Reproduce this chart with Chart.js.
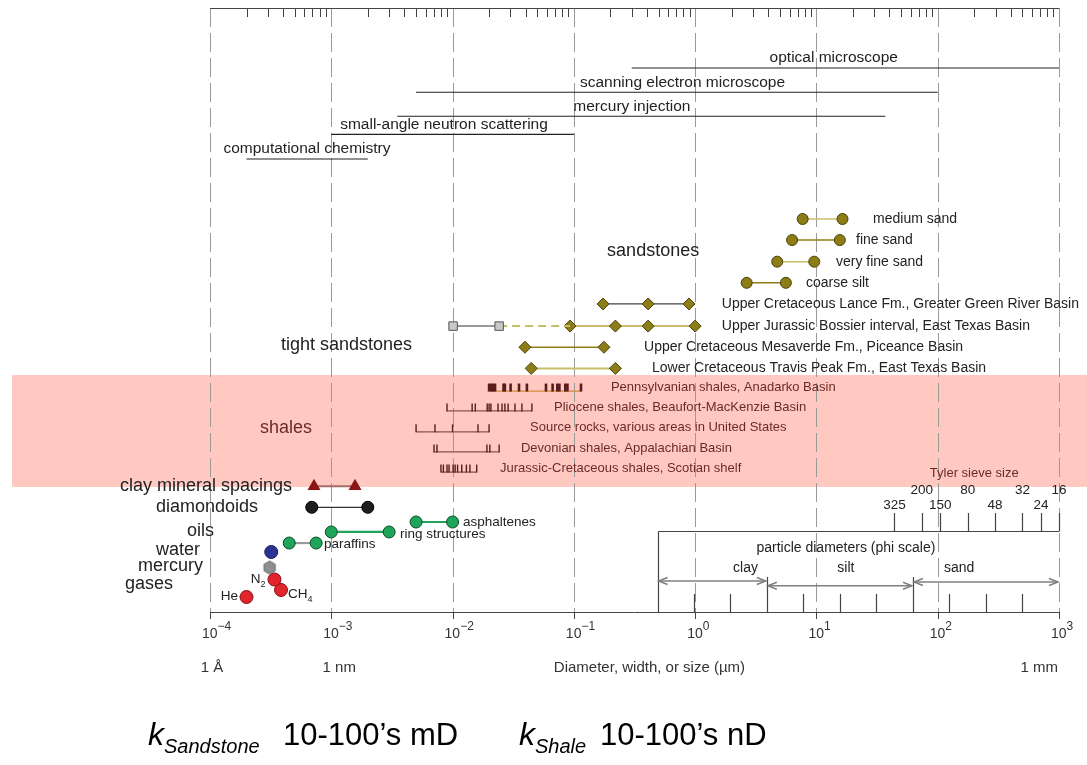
<!DOCTYPE html>
<html lang="en">
<head>
<meta charset="UTF-8">
<title>Pore and particle sizes</title>
<script src="https://cdn.jsdelivr.net/npm/chart.js@4"></script>
<style>
  body { margin: 0; background: #fff; }
  #wrap { width: 1087px; height: 765px; }
</style>
</head>
<body>
<div id="wrap"><canvas id="sizeChart" width="1087" height="765"></canvas></div>
<script>
// ---- data (sizes in micrometres) ----
const decades = [1e-4, 1e-3, 1e-2, 1e-1, 1, 10, 100, 1000];
const decadeExp = ['\u22124', '\u22123', '\u22122', '\u22121', '0', '1', '2', '3'];

const methods = ['optical microscope', 'scanning electron microscope', 'mercury injection',
                 'small-angle neutron scattering', 'computational chemistry'];
const methodFrom = [0.3, 0.005, 0.0035, 0.001, 0.0002];
const methodTo = [1000, 100, 37, 0.1, 0.002];

const sands = ['medium sand', 'fine sand', 'very fine sand', 'coarse silt'];
const sandFrom = [7.7, 6.3, 4.75, 2.66];
const sandTo = [16.4, 15.6, 9.6, 5.6];

const tightNames = ['Upper Cretaceous Lance Fm., Greater Green River Basin',
                    'Upper Jurassic Bossier interval, East Texas Basin',
                    'Upper Cretaceous Mesaverde Fm., Piceance Basin',
                    'Lower Cretaceous Travis Peak Fm., East Texas Basin'];
const lance = [0.174, 0.41, 0.89];
const bossierGrey = [0.0101, 0.0242];
const bossier = [0.093, 0.22, 0.41, 1.0];
const mesaverde = [0.0395, 0.177];
const travisPeak = [0.0445, 0.22];

const shaleNames = ['Pennsylvanian shales, Anadarko Basin',
                    'Pliocene shales, Beaufort-MacKenzie Basin',
                    'Source rocks, various areas in United States',
                    'Devonian shales, Appalachian Basin',
                    'Jurassic-Cretaceous shales, Scotian shelf'];
const pennsylvanian = [0.0200, 0.0208, 0.0216, 0.0224, 0.0263, 0.0270, 0.0301, 0.0353, 0.0410,
                       0.0589, 0.0668, 0.0730, 0.0760, 0.0850, 0.0885, 0.1145];
const pliocene = [0.0090, 0.0145, 0.0154, 0.0193, 0.0200, 0.0207, 0.0237, 0.0256, 0.0270,
                  0.0287, 0.0327, 0.0373, 0.0451];
const sourceRocks = [0.0050, 0.00716, 0.0100, 0.0162, 0.0200];
const devonian = [0.00703, 0.00744, 0.0192, 0.0203, 0.0242];
const jurassicCret = [0.00802, 0.0084, 0.0090, 0.00935, 0.0101, 0.0105, 0.0110, 0.0119,
                      0.0130, 0.0139, 0.0158];

const clayMineral = [7.2e-4, 1.57e-3];
const diamondoids = [6.9e-4, 2.0e-3];
const asphaltenes = [0.005, 0.01];
const ringStructures = [0.001, 0.003];
const paraffins = [4.5e-4, 7.5e-4];
const water = [3.2e-4];
const mercury = [3.1e-4];
const gasNames = ['He', 'N2', 'CH4'];
const gases = [2.0e-4, 3.4e-4, 3.85e-4];

const sieveMesh = ['325', '200', '150', '80', '48', '32', '24', '16'];
const sieveOpening = [44, 74, 105, 177, 297, 500, 710, 1000];
const phiTicks = [0.98, 1.95, 3.9, 7.8, 15.6, 31.2, 62.5, 125, 250, 500];
const grainClasses = ['clay', 'silt', 'sand'];
const grainFrom = [0.49, 3.9, 62.5];
const grainTo = [3.9, 62.5, 1000];

// ---- vertical layout (rows on a 0..60 scale, top down) ----
const rowY = {
  methods: [5.96, 8.37, 10.76, 12.55, 15.0],
  sands: [20.96, 23.05, 25.2, 27.3],
  tight: [29.4, 31.6, 33.7, 35.8],
  shales: [38.05, 40.03, 42.1, 44.1, 46.1],
  clay: 47.5, diamondoids: 49.6, asphaltenes: 51.06, ring: 52.05, paraffins: 53.15,
  water: 54.04, mercury: 55.58, gases: [58.51, 56.77, 57.81],
  band: [36.46, 47.58], sieveTop: 50.17, box: 51.95, sieveLo: 49.42, sieveHi: 47.95,
  tyler: 46.19, particle: 53.64, classes: 55.63, arrows: [56.92, 57.39, 57.02],
  bound: 56.52, phiTop: 58.2, base: 60
};

const FONT = '"Liberation Sans", Arial, Helvetica, sans-serif';
const TXT = '#222';
const SHALE = '#6b2a2a';
const OLIVE = '#8c7d16';
const KHAKI = '#c9bd6c';
const GREEN = '#1ea55a';

function seg(xs, y, opts) {
  return Object.assign({
    data: xs.map(v => ({ x: v, y: y })),
    showLine: true, pointRadius: 0, borderWidth: 1.3, borderColor: '#333'
  }, opts);
}

function hexagon(r, fill, stroke) {
  const c = document.createElement('canvas');
  const s = 2 * r + 3;
  c.width = c.height = s;
  const g = c.getContext('2d');
  g.beginPath();
  for (let i = 0; i < 6; i++) {
    const a = Math.PI / 3 * i + Math.PI / 6;
    g.lineTo(s / 2 + r * Math.cos(a), s / 2 + r * Math.sin(a));
  }
  g.closePath();
  g.fillStyle = fill; g.fill();
  g.strokeStyle = stroke; g.lineWidth = 1; g.stroke();
  return c;
}

const circle = (fill, border, r) => ({ pointStyle: 'circle', pointRadius: r || 5.5,
  pointBackgroundColor: fill, pointBorderColor: border, pointBorderWidth: 1 });
const diamond = { pointStyle: 'rectRot', pointRadius: 6, pointBackgroundColor: OLIVE,
  pointBorderColor: '#4a420a', pointBorderWidth: 1 };

const datasets = [];
methods.forEach((m, i) => datasets.push(seg([methodFrom[i], methodTo[i]], rowY.methods[i],
  { borderColor: '#222', borderWidth: 1.1 })));
const sandLine = [KHAKI, OLIVE, KHAKI, OLIVE];
sands.forEach((s, i) => datasets.push(seg([sandFrom[i], sandTo[i]], rowY.sands[i],
  Object.assign({ borderColor: sandLine[i], borderWidth: 1.6 }, circle(OLIVE, '#4a420a', 5.5)))));
datasets.push(seg(lance, rowY.tight[0], Object.assign({ borderColor: '#444' }, diamond)));
datasets.push(seg(bossierGrey, rowY.tight[1], { borderColor: '#999', borderWidth: 2,
  pointStyle: 'rect', pointRadius: 6, pointBackgroundColor: '#c8c8c8', pointBorderColor: '#555', pointBorderWidth: 1 }));
datasets.push(seg([bossierGrey[1], bossier[0]], rowY.tight[1], { borderColor: KHAKI, borderWidth: 2, borderDash: [8, 5] }));
datasets.push(seg(bossier, rowY.tight[1], Object.assign({ borderColor: KHAKI, borderWidth: 2 }, diamond)));
datasets.push(seg(mesaverde, rowY.tight[2], Object.assign({ borderColor: OLIVE, borderWidth: 1.6 }, diamond)));
datasets.push(seg(travisPeak, rowY.tight[3], Object.assign({ borderColor: KHAKI, borderWidth: 2 }, diamond)));

const shaleSets = [pennsylvanian, pliocene, sourceRocks, devonian, jurassicCret];
shaleSets.forEach((s, i) => datasets.push(seg([s[0], s[s.length - 1]], rowY.shales[i],
  { borderColor: i === 0 ? '#d08a3a' : '#8a5050', borderWidth: 1.2 })));

datasets.push(seg(clayMineral, rowY.clay, { borderColor: '#a86a6a', borderWidth: 2,
  pointStyle: 'triangle', pointRadius: 5.5, pointBackgroundColor: '#8b1515', pointBorderColor: '#8b1515' }));
datasets.push(seg(diamondoids, rowY.diamondoids, Object.assign({ borderColor: '#333', borderWidth: 1.3 }, circle('#1e1e1e', '#000', 6))));
datasets.push(seg(asphaltenes, rowY.asphaltenes, Object.assign({ borderColor: GREEN, borderWidth: 2.2 }, circle(GREEN, '#0c4a26', 6))));
datasets.push(seg(ringStructures, rowY.ring, Object.assign({ borderColor: GREEN, borderWidth: 2.2 }, circle(GREEN, '#0c4a26', 6))));
datasets.push(seg(paraffins, rowY.paraffins, Object.assign({ borderColor: '#9a9a9a', borderWidth: 2.2 }, circle(GREEN, '#0c4a26', 6))));
datasets.push(seg(water, rowY.water, Object.assign({ showLine: false }, circle('#2d3190', '#1a1d60', 6.5))));
datasets.push(seg(mercury, rowY.mercury, { showLine: false, pointStyle: hexagon(6.5, '#8e8e8e', '#666'), pointRadius: 6.5 }));
gases.forEach((g, i) => datasets.push(seg([g], rowY.gases[i], Object.assign({ showLine: false }, circle('#e2242c', '#8a1015', 6.5)))));

// ---- text labels: [text, x value, y row, align, size, colour, dy] ----
const methodLabelAt = [13.9, 0.787, 0.301, 0.0085, 6.3e-4];
const sandLabelAt = [29.3, 21.2, 14.5, 8.2];
const tightLabelAt = [1.66, 1.66, 0.379, 0.441];
const shaleLabelAt = [0.202, 0.0686, 0.0435, 0.0366, 0.0246];
const notes = [];
methods.forEach((m, i) => notes.push([m, methodLabelAt[i], rowY.methods[i], 'center', 15.5, TXT, -10]));
sands.forEach((s, i) => notes.push([s, sandLabelAt[i], rowY.sands[i], 'left', 14, TXT, 0]));
tightNames.forEach((s, i) => notes.push([s, tightLabelAt[i], rowY.tight[i], 'left', 14, TXT, 0]));
shaleNames.forEach((s, i) => notes.push([s, shaleLabelAt[i], rowY.shales[i], 'left', 13, SHALE, -4]));
notes.push(['sandstones', 0.188, 24.14, 'left', 18, TXT, 0]);
notes.push(['tight sandstones', 3.85e-4, 33.48, 'left', 18, TXT, 0]);
notes.push(['shales', 2.58e-4, 41.72, 'left', 18, SHALE, 0]);
notes.push(['clay mineral spacings', 4.74e-4, rowY.clay, 'right', 18, TXT, 0]);
notes.push(['diamondoids', 2.49e-4, rowY.diamondoids, 'right', 18, TXT, 0]);
notes.push(['oils', 1.08e-4, rowY.ring, 'right', 18, TXT, -1]);
notes.push(['water', 8.27e-5, rowY.water, 'right', 18, TXT, -2]);
notes.push(['mercury', 8.76e-5, rowY.mercury, 'right', 18, TXT, -1]);
notes.push(['gases', 4.95e-5, 57.2, 'right', 18, TXT, 0]);
notes.push(['asphaltenes', 0.0122, rowY.asphaltenes, 'left', 13.5, TXT, 0]);
notes.push(['ring structures', 0.00368, rowY.ring, 'left', 13.5, TXT, 2]);
notes.push(['paraffins', 8.7e-4, rowY.paraffins, 'left', 13.5, TXT, 1]);
notes.push(['He', 1.7e-4, rowY.gases[0], 'right', 13.5, TXT, -1]);
notes.push(['Tyler sieve size', 200, rowY.tyler, 'center', 13, SHALE, 0]);
notes.push(['particle diameters (phi scale)', 17.5, rowY.particle, 'center', 14, TXT, 0]);
grainClasses.forEach((g, i) => notes.push([g, [2.6, 17.5, 150][i], rowY.classes, 'center', 14, TXT, 0]));
sieveMesh.forEach((s, i) => notes.push([s, sieveOpening[i], i % 2 ? rowY.sieveHi : rowY.sieveLo, 'center', 13.5, TXT, 0]));

function drawRich(ctx, parts, px, py, align) {
  let w = 0;
  parts.forEach(p => { ctx.font = p.font; p.w = ctx.measureText(p.t).width; w += p.w; });
  let cx = align === 'center' ? px - w / 2 : align === 'right' ? px - w : px;
  ctx.textAlign = 'left';
  ctx.textBaseline = 'alphabetic';
  parts.forEach(p => { ctx.font = p.font; ctx.fillText(p.t, cx, py + (p.dy || 0)); cx += p.w; });
}

const figurePlugin = {
  id: 'figure',
  beforeDatasetsDraw(chart) {
    const { ctx, chartArea: a, scales: { x, y } } = chart;
    const X = v => x.getPixelForValue(v);
    const Y = v => y.getPixelForValue(v);
    const line = (x1, y1, x2, y2) => { ctx.beginPath(); ctx.moveTo(x1, y1); ctx.lineTo(x2, y2); ctx.stroke(); };
    ctx.save();
    // shale band
    ctx.fillStyle = '#ffc9c1';
    ctx.fillRect(12, Y(rowY.band[0]), chart.width - 12, Y(rowY.band[1]) - Y(rowY.band[0]));
    // dashed decade lines
    ctx.strokeStyle = '#9a9a9a';
    ctx.lineWidth = 1;
    ctx.setLineDash([19, 6]);
    decades.forEach(d => { const px = Math.round(X(d)) + 0.5; line(px, a.top, px, a.bottom); });
    ctx.setLineDash([]);
    // top frame with minor ticks
    ctx.strokeStyle = '#444';
    line(a.left, a.top + 0.5, a.right, a.top + 0.5);
    decades.slice(0, -1).forEach(d => {
      for (let m = 2; m <= 9; m++) { const px = Math.round(X(d * m)) + 0.5; line(px, a.top, px, a.top + 9); }
    });
    // bottom axis
    ctx.strokeStyle = '#444';
    line(a.left, a.bottom + 0.5, a.right, a.bottom + 0.5);
    decades.forEach(d => { const px = Math.round(X(d)) + 0.5; line(px, a.bottom, px, a.bottom + 7); });
    // sieve / phi box
    const x0 = Math.round(X(grainFrom[0])) + 0.5;
    const yBox = Math.round(Y(rowY.box)) + 0.5;
    ctx.strokeStyle = '#444';
    ctx.lineWidth = 1.2;
    line(x0, yBox, a.right, yBox);
    line(x0, yBox, x0, a.bottom);
    sieveOpening.forEach(v => { const px = Math.round(X(v)) + 0.5; line(px, Y(rowY.sieveTop), px, yBox); });
    phiTicks.forEach(v => {
      const px = Math.round(X(v)) + 0.5;
      const top = (v === grainTo[0] || v === grainTo[1]) ? rowY.bound : rowY.phiTop;
      line(px, Y(top), px, a.bottom);
    });
    // class arrows
    ctx.strokeStyle = '#808080';
    ctx.lineWidth = 1.5;
    grainClasses.forEach((g, i) => {
      const x1 = X(grainFrom[i]) + 1, x2 = X(grainTo[i]) - 1, py = Y(rowY.arrows[i]);
      line(x1, py, x2, py);
      ctx.beginPath(); ctx.moveTo(x1 + 9, py - 3.5); ctx.lineTo(x1, py); ctx.lineTo(x1 + 9, py + 3.5); ctx.stroke();
      ctx.beginPath(); ctx.moveTo(x2 - 9, py - 3.5); ctx.lineTo(x2, py); ctx.lineTo(x2 - 9, py + 3.5); ctx.stroke();
    });
    ctx.restore();
  },
  afterDatasetsDraw(chart) {
    const { ctx, chartArea: a, scales: { x, y } } = chart;
    const X = v => x.getPixelForValue(v);
    const Y = v => y.getPixelForValue(v);
    ctx.save();
    // shale sample ticks
    ctx.strokeStyle = '#5a1d1d';
    shaleSets.forEach((s, i) => {
      ctx.lineWidth = i === 0 ? 2.6 : 1.4;
      const py = Y(rowY.shales[i]);
      s.forEach(v => { const px = X(v); ctx.beginPath(); ctx.moveTo(px, py + 0.5); ctx.lineTo(px, py - 7.5); ctx.stroke(); });
    });
    // plain labels
    ctx.textBaseline = 'middle';
    notes.forEach(([t, xv, yv, align, size, color, dy]) => {
      ctx.font = size + 'px ' + FONT;
      ctx.fillStyle = color;
      ctx.textAlign = align;
      ctx.fillText(t, X(xv), Y(yv) + dy);
    });
    ctx.fillStyle = TXT;
    // gas formulae with subscripts
    drawRich(ctx, [{ t: 'N', font: '13.5px ' + FONT }, { t: '2', font: '9px ' + FONT, dy: 4 }],
      X(gases[1]) - 9, Y(rowY.gases[1]) + 4, 'right');
    drawRich(ctx, [{ t: 'CH', font: '13.5px ' + FONT }, { t: '4', font: '9px ' + FONT, dy: 4 }],
      X(gases[2]) + 7, Y(rowY.gases[2]) + 8, 'left');
    // decade tick labels
    ctx.fillStyle = '#333';
    decades.forEach((d, i) => drawRich(ctx, [
      { t: '10', font: '14px ' + FONT },
      { t: decadeExp[i], font: '12px ' + FONT, dy: -8 }
    ], X(d) - 8, a.bottom + 26, 'left'));
    // size reference marks
    ctx.font = '15px ' + FONT;
    ctx.textBaseline = 'middle';
    ctx.textAlign = 'center';
    ctx.fillText('1 \u00c5', X(decades[0]) + 2, a.bottom + 56);
    ctx.fillText('1 nm', X(decades[1]) + 8, a.bottom + 56);
    ctx.fillText('Diameter, width, or size (\u00b5m)', X(0.42), a.bottom + 56);
    ctx.textAlign = 'right';
    ctx.fillText('1 mm', X(decades[7]) - 1, a.bottom + 56);
    // permeability caption
    ctx.fillStyle = '#000';
    drawRich(ctx, [{ t: 'k', font: 'italic 32px ' + FONT }, { t: 'Sandstone', font: 'italic 20px ' + FONT, dy: 8 }],
      148, 745, 'left');
    drawRich(ctx, [{ t: '10-100\u2019s mD', font: '31px ' + FONT }], 283, 745, 'left');
    drawRich(ctx, [{ t: 'k', font: 'italic 32px ' + FONT }, { t: 'Shale', font: 'italic 20px ' + FONT, dy: 8 }],
      519, 745, 'left');
    drawRich(ctx, [{ t: '10-100\u2019s nD', font: '31px ' + FONT }], 600, 745, 'left');
    ctx.restore();
  }
};

new Chart(document.getElementById('sizeChart'), {
  type: 'scatter',
  data: { datasets: datasets },
  options: {
    responsive: false,
    animation: false,
    layout: { padding: { left: 210, right: 28, top: 8, bottom: 153 } },
    plugins: { legend: { display: false }, tooltip: { enabled: false } },
    scales: {
      x: { type: 'logarithmic', min: 1e-4, max: 1e3, display: false },
      y: { type: 'linear', min: 0, max: 60, reverse: true, display: false }
    }
  },
  plugins: [figurePlugin]
});
</script>
</body>
</html>
